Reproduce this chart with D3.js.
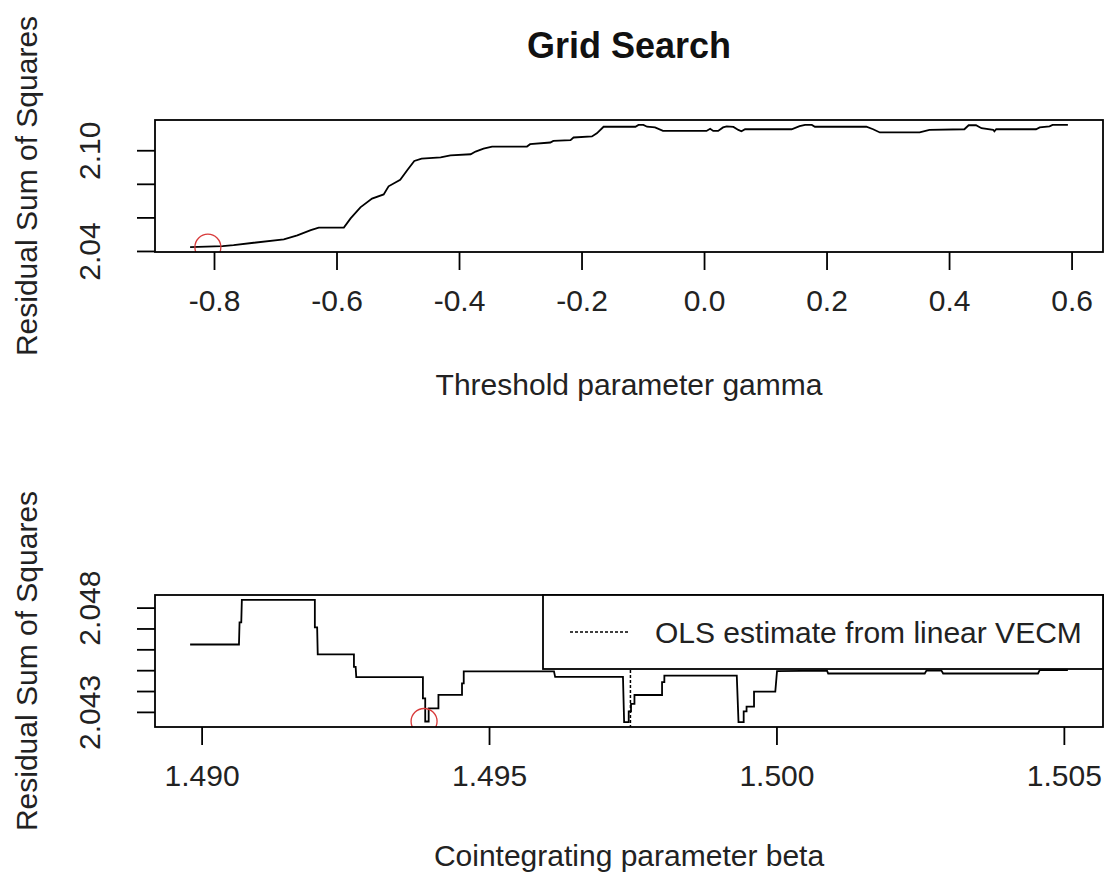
<!DOCTYPE html>
<html>
<head>
<meta charset="utf-8">
<script src="https://cdn.jsdelivr.net/npm/d3@7"></script>
<style>
  html, body { margin: 0; padding: 0; background: #fff; }
  svg { display: block; font-family: "Liberation Sans", Arial, sans-serif; }
</style>
</head>
<body>
<svg id="chart" width="1111" height="882"></svg>
<script>
// ---- Data: top panel (threshold parameter gamma) ----
const gammaGrid = [-0.839,-0.786,-0.768,-0.735,-0.686,-0.664,-0.642,-0.629,-0.588,-0.577,-0.561,-0.542,-0.523,-0.515,-0.496,-0.484,-0.473,-0.461,-0.430,-0.414,-0.381,-0.373,-0.360,-0.346,-0.289,-0.284,-0.251,-0.246,-0.218,-0.213,-0.183,-0.175,-0.164,-0.112,-0.107,-0.099,-0.093,-0.080,-0.067,0.004,0.010,0.015,0.023,0.031,0.037,0.048,0.056,0.061,0.067,0.143,0.156,0.165,0.176,0.181,0.265,0.276,0.287,0.352,0.368,0.425,0.432,0.444,0.453,0.472,0.474,0.477,0.542,0.548,0.564,0.569,0.594];
const gammaRSS = [2.0423,2.0429,2.0435,2.0449,2.0469,2.0493,2.0524,2.0539,2.0539,2.0594,2.0660,2.0712,2.0737,2.0785,2.0824,2.0884,2.0936,2.0950,2.0958,2.0970,2.0976,2.0992,2.1010,2.1022,2.1022,2.1036,2.1046,2.1056,2.1060,2.1076,2.1082,2.1101,2.1140,2.1140,2.1151,2.1151,2.1140,2.1136,2.1115,2.1115,2.1128,2.1115,2.1115,2.1136,2.1142,2.1139,2.1121,2.1113,2.1125,2.1125,2.1143,2.1151,2.1151,2.1140,2.1140,2.1125,2.1106,2.1106,2.1121,2.1125,2.1149,2.1149,2.1131,2.1122,2.1113,2.1125,2.1125,2.1136,2.1142,2.1151,2.1151];
const gammaBest = [-0.810, 2.0423];
const gammaTicks = [-0.8,-0.6,-0.4,-0.2,0.0,0.2,0.4,0.6];
const gammaTickLabels = ["-0.8","-0.6","-0.4","-0.2","0.0","0.2","0.4","0.6"];
const rssTopTicks = [2.04,2.06,2.08,2.10];
const rssTopTickLabels = ["2.04","","","2.10"];

// ---- Data: bottom panel (cointegrating parameter beta) ----
const betaGrid = [1.48980,1.49065,1.49066,1.49069,1.49070,1.49197,1.49197,1.49201,1.49202,1.49265,1.49265,1.49268,1.49269,1.49385,1.49385,1.49389,1.49389,1.49395,1.49395,1.49412,1.49412,1.49453,1.49453,1.49456,1.49456,1.49613,1.49615,1.49733,1.49735,1.49743,1.49743,1.49747,1.49747,1.49753,1.49753,1.49801,1.49801,1.49805,1.49805,1.49931,1.49934,1.49943,1.49943,1.49948,1.49948,1.49961,1.49961,1.49998,1.50001,1.50088,1.50090,1.50258,1.50261,1.50287,1.50290,1.50455,1.50458,1.50507];
const betaRSS = [2.04623,2.04623,2.04729,2.04729,2.04837,2.04837,2.04705,2.04705,2.04576,2.04576,2.04516,2.04516,2.04467,2.04467,2.04365,2.04365,2.04254,2.04254,2.04317,2.04317,2.04382,2.04382,2.04437,2.04437,2.04494,2.04494,2.04468,2.04468,2.04251,2.04251,2.04302,2.04302,2.04338,2.04338,2.04381,2.04381,2.04443,2.04443,2.04474,2.04474,2.04251,2.04251,2.04302,2.04302,2.04325,2.04325,2.04397,2.04397,2.04495,2.04498,2.04484,2.04484,2.04498,2.04498,2.04484,2.04484,2.04500,2.04500];
const betaBest = [1.49387, 2.04254];
const betaOLS = 1.49746;
const betaTicks = [1.490,1.495,1.500,1.505];
const betaTickLabels = ["1.490","1.495","1.500","1.505"];
const rssBotTicks = [2.043,2.044,2.045,2.046,2.047,2.048];
const rssBotTickLabels = ["2.043","","","","","2.048"];
const legendLabel = "OLS estimate from linear VECM";

// ---- Layout ----
const svg = d3.select("#chart");
const L = 155, R = 1103;
const FS = 30;
function pad(ext) { const r = ext[1]-ext[0]; return [ext[0]-0.04*r, ext[1]+0.04*r]; }

function panel(cfg) {
  const x = d3.scaleLinear().domain(pad(d3.extent(cfg.xs))).range([L, R]);
  const y = d3.scaleLinear().domain(pad(d3.extent(cfg.ys))).range([cfg.bottom, cfg.top]);
  const g = svg.append("g");
  const clipId = "clip" + cfg.id;
  svg.append("defs").append("clipPath").attr("id", clipId)
    .append("rect").attr("x", L).attr("y", cfg.top).attr("width", R-L).attr("height", cfg.bottom-cfg.top);

  const pts = cfg.xs.map((v,i)=>[v, cfg.ys[i]]);
  const plot = g.append("g").attr("clip-path", `url(#${clipId})`);
  plot.append("path").datum(pts)
    .attr("d", d3.line().x(d=>x(d[0])).y(d=>y(d[1])))
    .attr("fill","none").attr("stroke","#000").attr("stroke-width",1.8);
  plot.append("circle").attr("cx", x(cfg.best[0])).attr("cy", y(cfg.best[1])).attr("r", 13)
    .attr("fill","none").attr("stroke","#d83a3a").attr("stroke-width",1.3);

  if (cfg.ols !== undefined) {
    plot.append("line").attr("x1", x(cfg.ols)).attr("x2", x(cfg.ols))
      .attr("y1", cfg.top).attr("y2", cfg.bottom)
      .attr("stroke","#000").attr("stroke-width",1.5).attr("stroke-dasharray","3,2");
  }

  // x axis
  const xa = g.append("g").attr("transform", `translate(0,${cfg.bottom})`)
    .call(d3.axisBottom(x).tickValues(cfg.xTicks).tickSize(18)
      .tickFormat((d,i)=>cfg.xTickLabels[i]));
  xa.select(".domain").remove();
  xa.selectAll(".tick line").attr("stroke","#000").attr("stroke-width",1.8);
  xa.selectAll(".tick text").attr("font-size", FS).attr("fill","#222")
    .attr("y", cfg.xTickY).attr("dy", 0);

  // y axis
  const ya = g.append("g").attr("transform", `translate(${L},0)`)
    .call(d3.axisLeft(y).tickValues(cfg.yTicks).tickSize(18)
      .tickFormat((d,i)=>cfg.yTickLabels[i]));
  ya.select(".domain").remove();
  ya.selectAll(".tick line").attr("stroke","#000").attr("stroke-width",1.8);
  ya.selectAll(".tick text").attr("font-size", FS).attr("fill","#222")
    .attr("x", null).attr("dy", 0)
    .attr("text-anchor","middle")
    .attr("transform", `translate(${100-L},0) rotate(-90)`);

  // box
  g.append("rect").attr("x", L).attr("y", cfg.top).attr("width", R-L).attr("height", cfg.bottom-cfg.top)
    .attr("fill","none").attr("stroke","#000").attr("stroke-width",1.8);

  // axis labels
  svg.append("text").attr("x", (L+R)/2).attr("y", cfg.xLabelY).attr("text-anchor","middle")
    .attr("font-size", FS).attr("fill","#222").text(cfg.xLabel);
  svg.append("text").attr("transform", `translate(37,${(cfg.top+cfg.bottom)/2}) rotate(-90)`)
    .attr("text-anchor","middle").attr("font-size", FS).attr("fill","#222").text("Residual Sum of Squares");

  return {x, y, g};
}

// Title
svg.append("text").attr("x", (L+R)/2).attr("y", 58).attr("text-anchor","middle")
  .attr("font-size", 36).attr("font-weight","bold").attr("fill","#111").text("Grid Search");

panel({id:"top", xs:gammaGrid, ys:gammaRSS, best:gammaBest, top:120, bottom:252,
  xTicks:gammaTicks, xTickLabels:gammaTickLabels, yTicks:rssTopTicks, yTickLabels:rssTopTickLabels,
  xTickY:59, xLabelY:395, xLabel:"Threshold parameter gamma"});

const bot = panel({id:"bot", xs:betaGrid, ys:betaRSS, best:betaBest, ols:betaOLS, top:595, bottom:727,
  xTicks:betaTicks, xTickLabels:betaTickLabels, yTicks:rssBotTicks, yTickLabels:rssBotTickLabels,
  xTickY:59, xLabelY:866, xLabel:"Cointegrating parameter beta"});

// Legend (top right of bottom panel)
const lg = svg.append("g");
const lgX = 543, lgY = 595, lgH = 74;
lg.append("rect").attr("x", lgX).attr("y", lgY).attr("width", R-lgX).attr("height", lgH)
  .attr("fill","#fff").attr("stroke","#000").attr("stroke-width",1.8);
lg.append("line").attr("x1", 570).attr("x2", 630).attr("y1", lgY+37).attr("y2", lgY+37)
  .attr("stroke","#000").attr("stroke-width",1.5).attr("stroke-dasharray","3,2");
lg.append("text").attr("x", 655).attr("y", lgY+48).attr("font-size", FS).attr("fill","#222").text(legendLabel);
</script>
</body>
</html>
